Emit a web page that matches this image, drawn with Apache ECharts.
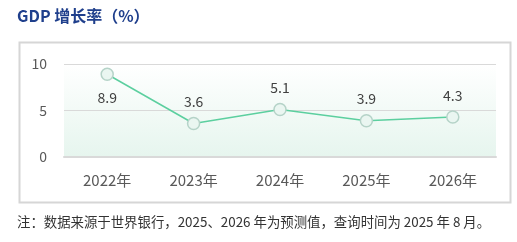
<!DOCTYPE html>
<html>
<head>
<meta charset="utf-8">
<script src="https://cdn.jsdelivr.net/npm/echarts@6/dist/echarts.min.js"></script>
<style>
  html, body { margin: 0; padding: 0; background: #fff; }
  #c { width: 517px; height: 242px; }
</style>
</head>
<body>
<div id="c"></div>
<script>
const years = ['2022年', '2023年', '2024年', '2025年', '2026年'];
const growth = [8.9, 3.6, 5.1, 3.9, 4.3];
const yTicks = [0, 5, 10];

const font = '"Noto Sans CJK SC", "Noto Sans", sans-serif';
const chart = echarts.init(document.getElementById('c'));

chart.setOption({
  animation: false,
  textStyle: { fontFamily: font },
  graphic: [
    {
      type: 'text', left: 17, top: 8,
      style: { text: 'GDP 增长率（%）', fill: '#1f3f8c', font: 'bold 16px ' + font }
    },
    {
      type: 'rect', left: 17, top: 40, z: -10,
      shape: { width: 491, height: 160 },
      style: { fill: 'none', stroke: '#d6d6d6', lineWidth: 2 }
    },
    {
      type: 'text', left: 17, top: 215,
      style: { text: '注：数据来源于世界银行，2025、2026 年为预测值，查询时间为 2025 年 8 月。', fill: '#333', font: '13.4px ' + font }
    }
  ],
  grid: {
    left: 64, right: 21, top: 64, bottom: 85,
    show: true, borderWidth: 0,
    backgroundColor: new echarts.graphic.LinearGradient(0, 0, 0, 1, [
      { offset: 0, color: '#ffffff' },
      { offset: 1, color: '#e6f5ee' }
    ])
  },
  xAxis: {
    type: 'category',
    data: years,
    boundaryGap: true,
    axisLine: { lineStyle: { color: '#d9d9d9', width: 2 } },
    axisTick: { show: false },
    axisLabel: { color: '#595959', fontSize: 15, margin: 16 }
  },
  yAxis: {
    type: 'value',
    min: yTicks[0], max: yTicks[yTicks.length - 1], interval: 5,
    axisLine: { show: false },
    axisTick: { show: false },
    axisLabel: { color: '#595959', fontSize: 14, margin: 17 },
    splitLine: { lineStyle: { color: '#d9d9d9', width: 1 } }
  },
  series: [{
    type: 'line',
    symbol: 'circle',
    symbolSize: 12,
    lineStyle: { color: '#5ccf9f', width: 1.5 },
    itemStyle: { color: '#eaf6f1', borderColor: '#b5d3c8', borderWidth: 1.5 },
    label: {
      show: true,
      position: 'top',
      distance: 8,
      color: '#404040',
      fontSize: 14
    },
    data: growth.map((v, i) => i === 0
      ? { value: v, label: { position: 'bottom', distance: 10 } }
      : v)
  }]
});
</script>
</body>
</html>
